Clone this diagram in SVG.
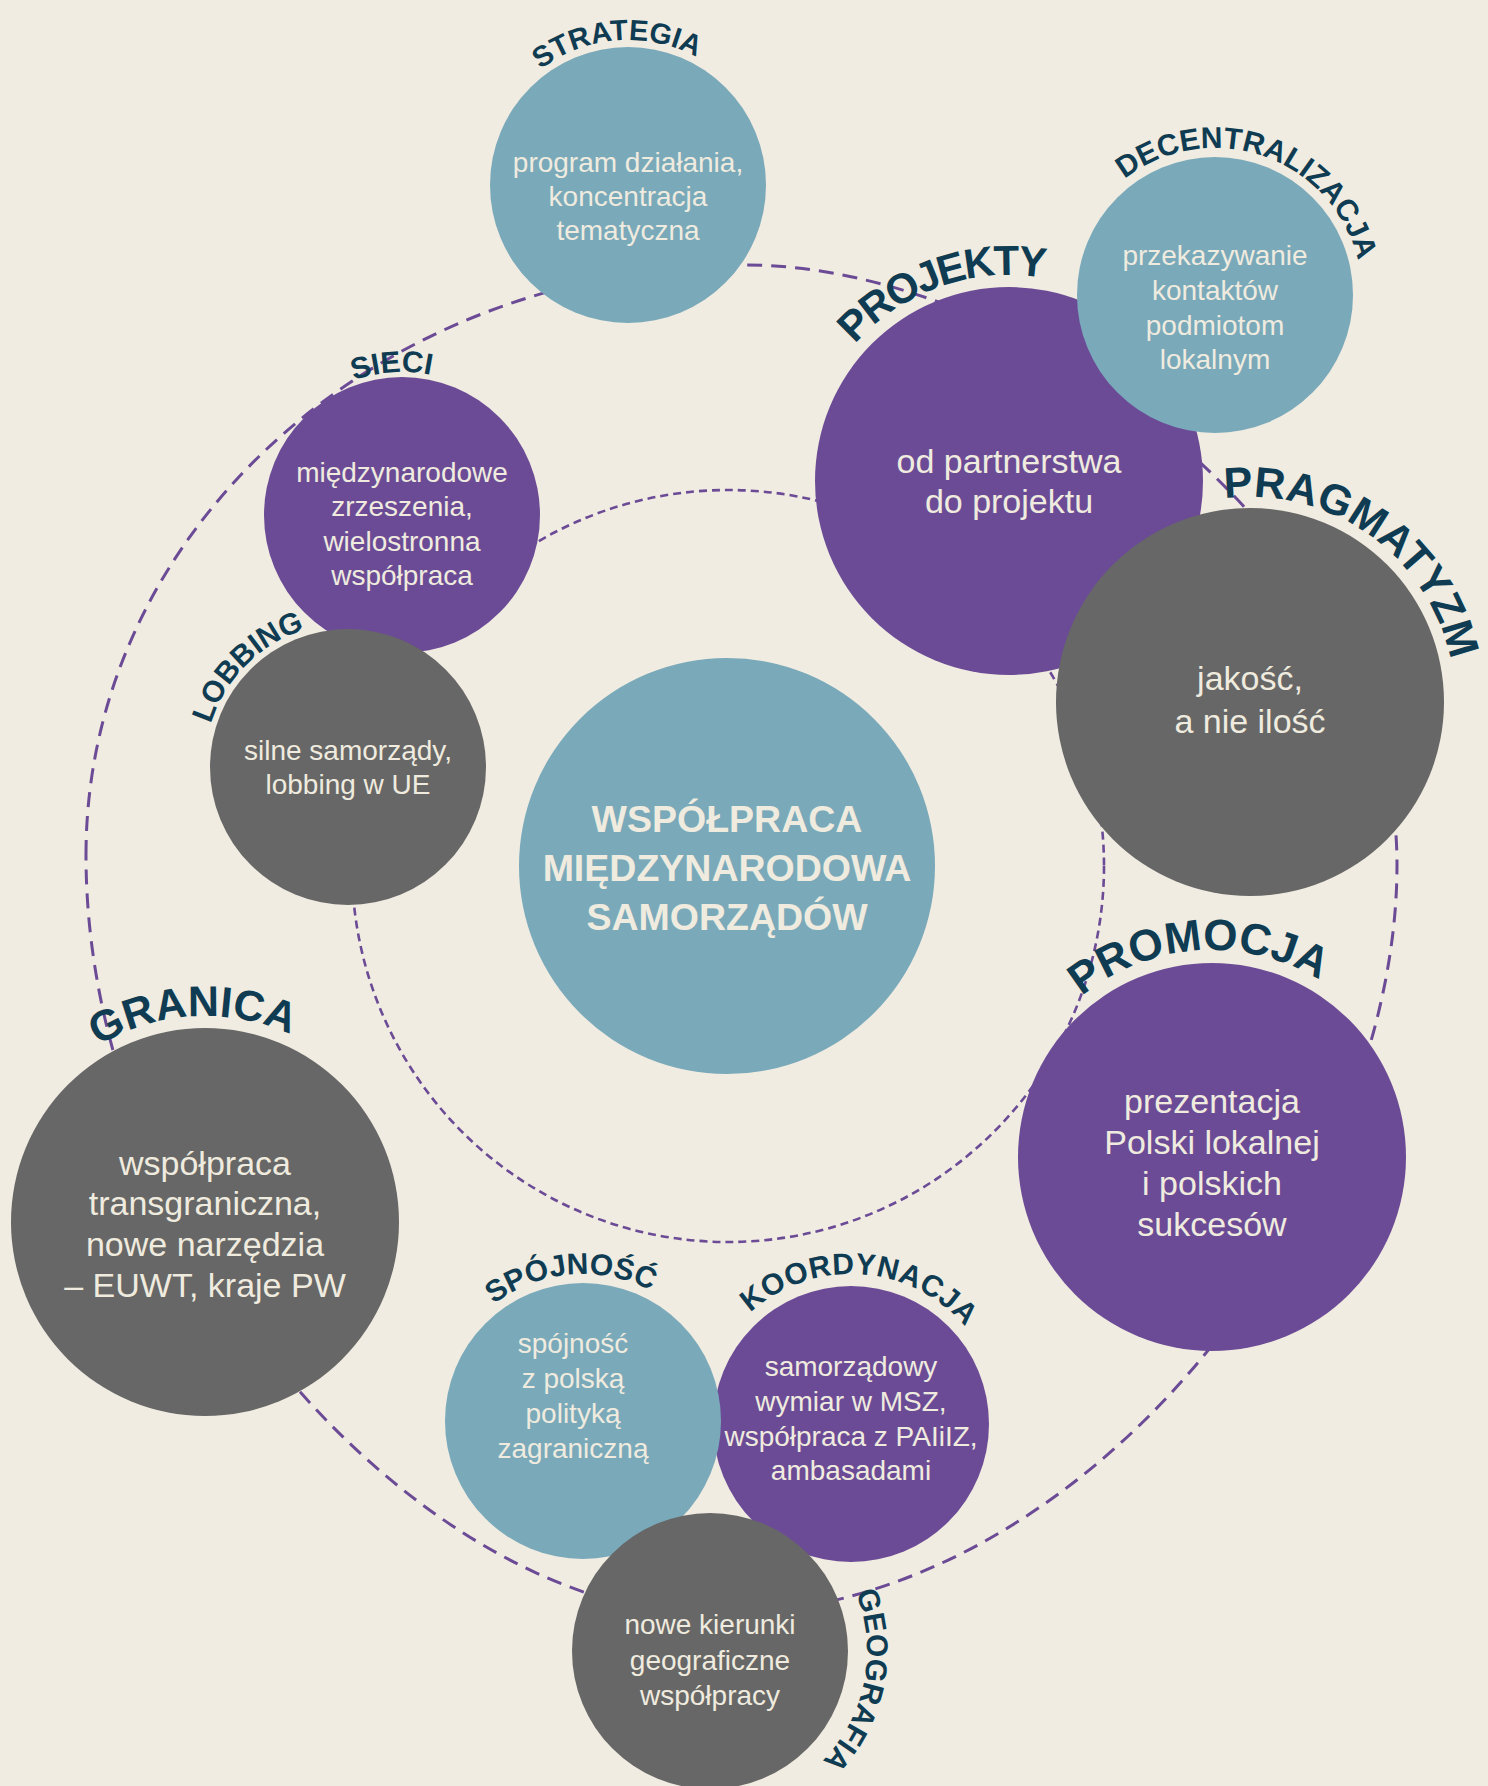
<svg xmlns="http://www.w3.org/2000/svg" width="1488" height="1786" viewBox="0 0 1488 1786">
<defs>
<style>
.blue{fill:#7aa9ba}
.purple{fill:#6c4b96}
.gray{fill:#676767}
.body{font-family:"Liberation Sans",Arial,sans-serif;fill:#efebdf;text-anchor:middle}
.s{font-size:28px}
.b{font-size:34px}
.title{font-family:"Liberation Sans",Arial,sans-serif;font-weight:bold;font-size:37.5px;fill:#efebdf;text-anchor:middle}
.lbl{font-family:"Liberation Sans",Arial,sans-serif;font-weight:bold;fill:#0f3c52;text-anchor:middle}
.sm{font-size:30px}
.bg{font-size:44px}
.outer{fill:none;stroke:#6c4b96;stroke-width:3;stroke-dasharray:15 9}
.inner{fill:none;stroke:#6c4b96;stroke-width:2.6;stroke-dasharray:8 5}
</style>
<path id="r143" d="M -143 0 A 143 143 0 0 1 143 0"/>
<path id="r144" d="M -144 0 A 144 144 0 0 1 144 0"/>
<path id="r145" d="M -145 0 A 145 145 0 0 1 145 0"/>
<path id="r147" d="M -147 0 A 147 147 0 0 1 147 0"/>
<path id="r150" d="M -150 0 A 150 150 0 0 1 150 0"/>
<path id="r157" d="M -157 0 A 157 157 0 0 1 157 0"/>
<path id="r205" d="M -205 0 A 205 205 0 0 1 205 0"/>
<path id="r206" d="M -206 0 A 206 206 0 0 1 206 0"/>
<path id="r207" d="M -207 0 A 207 207 0 0 1 207 0"/>
</defs>
<rect x="0" y="0" width="1488" height="1786" fill="#f0ece1"/>

<g id="connectors">
<path class="outer" d="M 86 855 C 86 529 381 265 745 265 C 1025 265 1397 535 1397 865 C 1397 1195 1092 1615 712 1615 C 432 1615 86 1255 86 855 Z"/>
<circle class="inner" cx="728" cy="866" r="376"/>
</g>

<g id="strategia">
<circle class="blue" cx="628" cy="185" r="138"/>
<text class="body s"><tspan x="628" y="172">program działania,</tspan><tspan x="628" y="206">koncentracja</tspan><tspan x="628" y="240">tematyczna</tspan></text>
<text class="lbl" font-size="29" transform="translate(628,185) rotate(-4.5)"><textPath href="#r145" startOffset="50%">STRATEGIA</textPath></text>
</g>

<g id="sieci">
<circle class="purple" cx="402" cy="515" r="138"/>
<text class="body s"><tspan x="402" y="482">międzynarodowe</tspan><tspan x="402" y="516">zrzeszenia,</tspan><tspan x="402" y="551">wielostronna</tspan><tspan x="402" y="585">współpraca</tspan></text>
<text class="lbl sm" transform="translate(402,515) rotate(-4)"><textPath href="#r143" startOffset="50%">SIECI</textPath></text>
</g>

<g id="lobbing">
<circle class="gray" cx="348" cy="767" r="138"/>
<text class="body s"><tspan x="348" y="760">silne samorządy,</tspan><tspan x="348" y="794">lobbing w UE</tspan></text>
<text class="lbl sm" transform="translate(348,767) rotate(-45)"><textPath href="#r144" startOffset="50%">LOBBING</textPath></text>
</g>

<g id="centrum">
<circle class="blue" cx="727" cy="866" r="208"/>
<text class="title"><tspan x="727" y="832">WSPÓŁPRACA</tspan><tspan x="727" y="881">MIĘDZYNARODOWA</tspan><tspan x="727" y="930">SAMORZĄDÓW</tspan></text>
</g>

<g id="projekty">
<circle class="purple" cx="1009" cy="481" r="194"/>
<text class="body b"><tspan x="1009" y="473">od partnerstwa</tspan><tspan x="1009" y="513">do projektu</tspan></text>
<text class="lbl" font-size="42" letter-spacing="-2.3" transform="translate(1009,481) rotate(-19.5)"><textPath href="#r206" startOffset="50%">PROJEKTY</textPath></text>
</g>

<g id="decentralizacja">
<circle class="blue" cx="1215" cy="295" r="138"/>
<text class="body s"><tspan x="1215" y="265">przekazywanie</tspan><tspan x="1215" y="300">kontaktów</tspan><tspan x="1215" y="335">podmiotom</tspan><tspan x="1215" y="369">lokalnym</tspan></text>
<text class="lbl sm" transform="translate(1215,295) rotate(19.2)"><textPath href="#r147" startOffset="50%">DECENTRALIZACJA</textPath></text>
</g>

<g id="pragmatyzm">
<circle class="gray" cx="1250" cy="702" r="194"/>
<text class="body b"><tspan x="1250" y="690">jakość,</tspan><tspan x="1250" y="733">a nie ilość</tspan></text>
<text class="lbl" font-size="43" transform="translate(1250,702) rotate(35.5)"><textPath href="#r205" startOffset="50%">PRAGMATYZM</textPath></text>
</g>

<g id="promocja">
<circle class="purple" cx="1212" cy="1157" r="194"/>
<text class="body b"><tspan x="1212" y="1113">prezentacja</tspan><tspan x="1212" y="1154">Polski lokalnej</tspan><tspan x="1212" y="1195">i polskich</tspan><tspan x="1212" y="1236">sukcesów</tspan></text>
<text class="lbl bg" transform="translate(1212,1157) rotate(-3.9)"><textPath href="#r207" startOffset="50%">PROMOCJA</textPath></text>
</g>

<g id="granica">
<circle class="gray" cx="205" cy="1222" r="194"/>
<text class="body b"><tspan x="205" y="1175">współpraca</tspan><tspan x="205" y="1215">transgraniczna,</tspan><tspan x="205" y="1256">nowe narzędzia</tspan><tspan x="205" y="1297">– EUWT, kraje PW</tspan></text>
<text class="lbl" font-size="43" transform="translate(205,1222) rotate(-3.4)"><textPath href="#r206" startOffset="50%">GRANICA</textPath></text>
</g>

<g id="koordynacja">
<circle class="purple" cx="851" cy="1424" r="138"/>
<text class="body s"><tspan x="851" y="1376">samorządowy</tspan><tspan x="851" y="1411">wymiar w MSZ,</tspan><tspan x="851" y="1446">współpraca z PAIiIZ,</tspan><tspan x="851" y="1480">ambasadami</tspan></text>
<text class="lbl sm" letter-spacing="0.5" transform="translate(851,1424) rotate(3.8)"><textPath href="#r150" startOffset="50%">KOORDYNACJA</textPath></text>
</g>

<g id="spojnosc">
<circle class="blue" cx="583" cy="1421" r="138"/>
<text class="body s"><tspan x="573" y="1353">spójność</tspan><tspan x="573" y="1388">z polską</tspan><tspan x="573" y="1423">polityką</tspan><tspan x="573" y="1458">zagraniczną</tspan></text>
<text class="lbl sm" transform="translate(583,1421) rotate(-4.9)"><textPath href="#r147" startOffset="50%">SPÓJNOŚĆ</textPath></text>
</g>

<g id="geografia">
<circle class="gray" cx="710" cy="1651" r="138"/>
<text class="body s"><tspan x="710" y="1634">nowe kierunki</tspan><tspan x="710" y="1670">geograficzne</tspan><tspan x="710" y="1705">współpracy</tspan></text>
<text class="lbl sm" transform="translate(710,1651) rotate(101.25)"><textPath href="#r157" startOffset="50%">GEOGRAFIA</textPath></text>
</g>
</svg>
